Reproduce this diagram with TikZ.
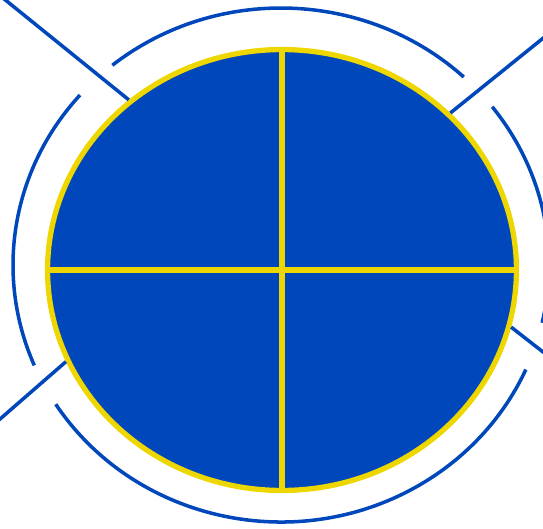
\documentclass[tikz,border=0pt]{standalone}
\usetikzlibrary{shapes.geometric}
\definecolor{discblue}{RGB}{0,71,187}
\definecolor{rimyellow}{RGB}{238,214,0}

\begin{document}
\begin{tikzpicture}[x=0.02cm, y=0.02cm,
	rim/.style={draw=discblue, line width=2pt},
	spoke/.style={draw=discblue, line width=2pt},
	cross/.style={draw=rimyellow, line width=3pt}]
	\useasboundingbox (-282,-258) rectangle (261,270);

	% Disc
	\node[ellipse, draw=rimyellow, fill=discblue, line width=3pt,
		minimum width=9.38cm, minimum height=8.82cm, inner sep=0pt] (disc) at (0,0) {};
	\draw[cross] (disc.north) -- (disc.south);   % Vertical
	\draw[cross] (disc.west) -- (disc.east);     % Horizontal

	% Outer ends of the spokes
	\coordinate (tlEnd) at (-284,276);   % Top-left
	\coordinate (trEnd) at (270,239);    % Top-right
	\coordinate (blEnd) at (-290,-156);  % Bottom-left
	\coordinate (brEnd) at (270,-89);    % Bottom-right

	% Spokes
	\draw[spoke] (disc.132) -- (tlEnd);
	\draw[spoke] (disc.43.6) -- (trEnd);
	\draw[spoke] (disc.203.8) -- (blEnd);
	\draw[spoke] (disc.346.4) -- (brEnd);

	% Outer arcs
	\draw[rim] ([shift={(-1,5)}]47:268 and 257) arc[start angle=47, end angle=129, x radius=268, y radius=257];
	\draw[rim] ([shift={(-1,5)}]138.6:268 and 257) arc[start angle=138.6, end angle=203, x radius=268, y radius=257];
	\draw[rim] ([shift={(-1,5)}]212.8:268 and 257) arc[start angle=212.8, end angle=336, x radius=268, y radius=257];
	\draw[rim] ([shift={(-1,5)}]-13:268 and 257) arc[start angle=-13, end angle=38, x radius=268, y radius=257];
\end{tikzpicture}
\end{document}
